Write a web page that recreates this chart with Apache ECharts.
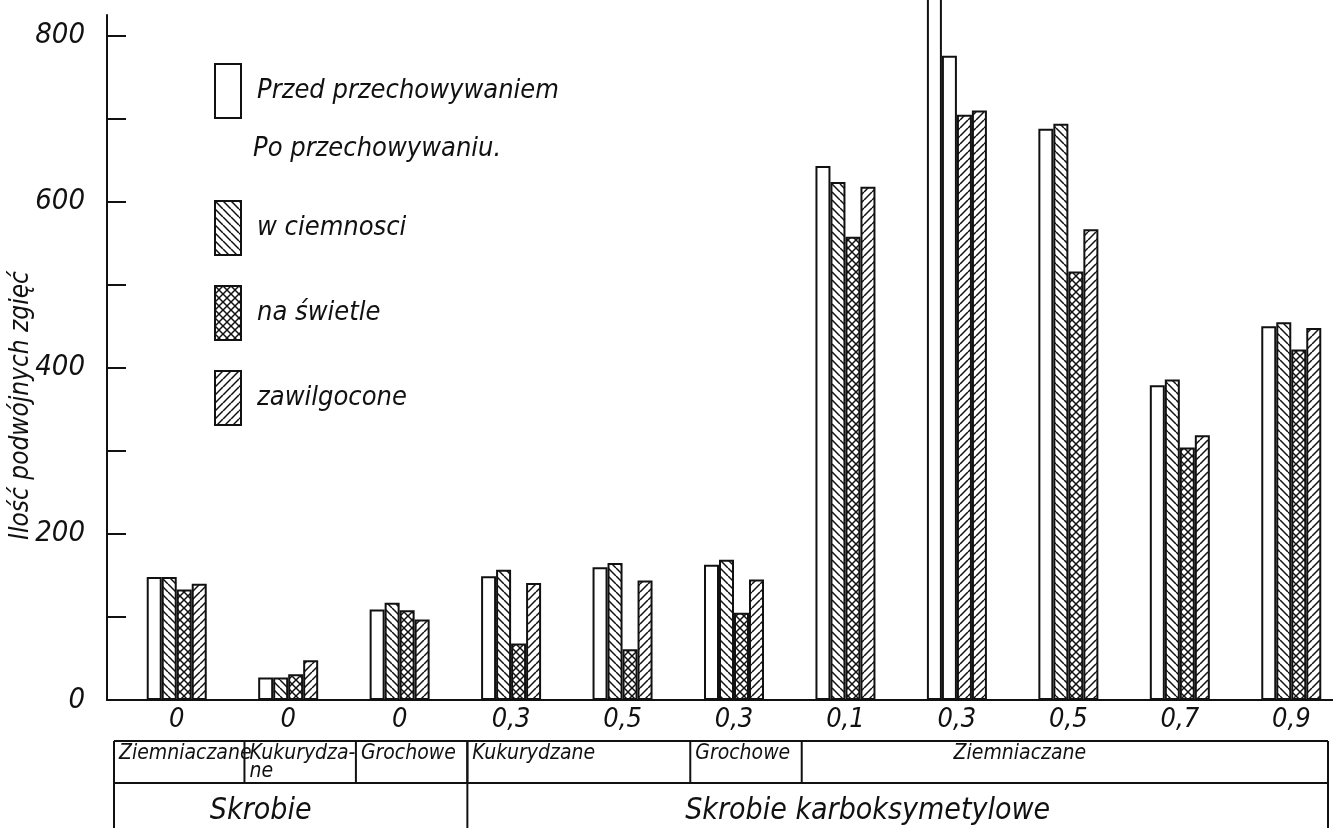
<!DOCTYPE html>
<html><head><meta charset="utf-8">
<script src="https://cdn.jsdelivr.net/npm/echarts@6/dist/echarts.min.js"></script>
<style>html,body{margin:0;padding:0;background:#fff}#c{width:1333px;height:828px}</style>
</head><body><div id="c"></div>
<script>
// ---- data ----
const categories = ['0','0','0','0,3','0,5','0,3','0,1','0,3','0,5','0,7','0,9'];
const seriesNames = ['Przed przechowywaniem','w ciemnosci','na świetle','zawilgocone'];
const przed       = [148, 27, 109, 149, 160, 163, 643, 850, 688, 379, 450];
const ciemnosci   = [148, 27, 117, 157, 165, 169, 624, 776, 694, 386, 455];
const swietle     = [133, 31, 108,  68,  61, 105, 558, 705, 516, 304, 422];
const zawilgocone = [140, 48,  97, 141, 144, 145, 618, 710, 567, 319, 448];
const yLabelTicks = [0, 200, 400, 600, 800];
const yMinorTicks = [0, 100, 200, 300, 400, 500, 600, 700, 800];
const starchTypes = ['Ziemniaczane', 'Kukurydza-\nne', 'Grochowe', 'Kukurydzane', 'Grochowe', 'Ziemniaczane'];
const starchTypeSpans = [1, 1, 1, 2, 1, 5];
const starchGroups = ['Skrobie', 'Skrobie karboksymetylowe'];
const starchGroupSpans = [3, 8];
const yName = 'Ilość podwójnych zgięć';
const afterLabel = 'Po przechowywaniu.';

// ---- styling ----
const FONT = "'Liberation Sans Narrow','DejaVu Sans Condensed',sans-serif";
const INK = '#111';
function hatch(dirs) {
  const s = 8, c = document.createElement('canvas');
  c.width = s; c.height = s;
  const g = c.getContext('2d');
  g.fillStyle = '#fff'; g.fillRect(0, 0, s, s);
  g.strokeStyle = INK; g.lineWidth = 1.5;
  dirs.forEach(d => {
    for (let k = -1; k <= 2; k++) {
      g.beginPath();
      if (d === 'b') { g.moveTo(0, k * s); g.lineTo(s, k * s + s); }
      else { g.moveTo(0, k * s); g.lineTo(s, k * s - s); }
      g.stroke();
    }
  });
  return { image: c, repeat: 'repeat' };
}
const fills = { white: '#fff', back: hatch(['b']), cross: hatch(['b', 'f']), fwd: hatch(['f']) };
const seriesFill = ['white', 'back', 'cross', 'fwd'];
// print anomalies in the '0,3' Ziemniaczane group
const fillOverrides = { 1: { 7: 'white' }, 2: { 7: 'fwd' } };
const seriesData = [przed, ciemnosci, swietle, zawilgocone];

const chart = echarts.init(document.getElementById('c'), null, { renderer: 'canvas' });
const txt = (size, extra) => Object.assign({ fontFamily: FONT, fontStyle: 'italic', fontWeight: 'normal', fontSize: size, color: INK }, extra || {});

const series = seriesNames.map((name, si) => ({
  name, type: 'bar', xAxisIndex: 1, yAxisIndex: 1,
  barWidth: 15, barGap: '0%',
  itemStyle: { color: fills[seriesFill[si]], borderColor: INK, borderWidth: 2 },
  emphasis: { disabled: true },
  data: seriesData[si].map((v, i) => {
    const o = fillOverrides[si] && fillOverrides[si][i];
    return o ? { value: v, itemStyle: { color: fills[o] } } : v;
  })
}));

const legendCommon = {
  orient: 'vertical', left: 209, icon: 'rect', itemWidth: 26, itemHeight: 54,
  selectedMode: false, textStyle: txt(27, { padding: [0, 0, 0, 11] })
};

// axis frame: 0..825 over y 15..700; bar grid extends above the frame so the off-scale bar runs past the top
const Y_MAX = 825, FRAME_TOP = 15, AXIS_Y = 700;
const pxPerUnit = (AXIS_Y - FRAME_TOP) / Y_MAX;
const BAR_TOP = -30;
const BAR_MAX = (AXIS_Y - BAR_TOP) / pxPerUnit;

chart.setOption({
  animation: false,
  backgroundColor: '#fff',
  title: { text: afterLabel, left: 248, top: 130, textStyle: txt(27) },
  legend: [
    Object.assign({ data: [seriesNames[0]], top: 58 }, legendCommon),
    Object.assign({ data: seriesNames.slice(1), top: 195, itemGap: 29, itemHeight: 53 }, legendCommon)
  ],
  grid: [
    { left: 107, right: 0, top: FRAME_TOP, bottom: 828 - AXIS_Y, outerBoundsMode: 'none', containLabel: false },
    { left: 121, width: 1226, top: BAR_TOP, bottom: 828 - AXIS_Y, outerBoundsMode: 'none', containLabel: false }
  ],
  xAxis: [
    { gridIndex: 0, type: 'value', min: 0, max: 1, axisLine: { show: true, lineStyle: { color: INK, width: 2 } },
      axisTick: { show: false }, axisLabel: { show: false }, splitLine: { show: false } },
    { gridIndex: 1, type: 'category', data: categories, axisLine: { show: false }, axisTick: { show: false },
      axisLabel: Object.assign(txt(27), { margin: 6 }) }
  ],
  yAxis: [
    { gridIndex: 0, type: 'value', min: 0, max: Y_MAX,
      axisLine: { show: true, lineStyle: { color: INK, width: 2 } },
      axisTick: { show: true, inside: true, length: 19, lineStyle: { color: INK, width: 2 }, customValues: yMinorTicks },
      axisLabel: Object.assign(txt(29), { margin: 22, customValues: yLabelTicks }),
      splitLine: { show: false },
      name: yName, nameLocation: 'middle', nameGap: 73, nameMoveOverlap: false,
      nameTextStyle: txt(26, { padding: [0, 96, 0, 0] }) },
    { gridIndex: 1, type: 'value', min: 0, max: BAR_MAX, show: false }
  ],
  series
});

// ---- category table under the axis ----
const TABLE_TOP = 741, TABLE_MID = 783, TABLE_BOTTOM = 828, TABLE_LEFT = 114, TABLE_RIGHT = 1328, SHIFT = 12;
const c0 = chart.convertToPixel({ xAxisIndex: 1 }, 0);
const c1 = chart.convertToPixel({ xAxisIndex: 1 }, 1);
const band = c1 - c0;
const boundary = k => {
  if (k <= 0) return TABLE_LEFT;
  if (k >= categories.length) return TABLE_RIGHT;
  return c0 - band / 2 + k * band + SHIFT;
};
const line = (x1, y1, x2, y2) => ({ type: 'line', shape: { x1, y1, x2, y2 }, style: { stroke: INK, lineWidth: 2 }, silent: true });
const g = [];
g.push(line(TABLE_LEFT, TABLE_TOP, TABLE_RIGHT, TABLE_TOP));
g.push(line(TABLE_LEFT, TABLE_MID, TABLE_RIGHT, TABLE_MID));
g.push(line(TABLE_LEFT, TABLE_TOP, TABLE_LEFT, TABLE_BOTTOM));
g.push(line(TABLE_RIGHT, TABLE_TOP, TABLE_RIGHT, TABLE_BOTTOM));
let k = 0;
starchTypes.forEach((t, i) => {
  const x0 = boundary(k), x1 = boundary(k + starchTypeSpans[i]);
  if (k > 0) g.push(line(x0, TABLE_TOP, x0, TABLE_MID));
  const wide = starchTypeSpans[i] >= 5;
  g.push({ type: 'text', silent: true, x: wide ? (x0 + x1) / 2 - 45 : x0 + 5, y: TABLE_TOP + 4,
    style: { text: t, fill: INK, align: wide ? 'center' : 'left', verticalAlign: 'top', lineHeight: 18,
      font: 'italic 21px ' + FONT } });
  k += starchTypeSpans[i];
});
k = 0;
starchGroups.forEach((t, i) => {
  const x0 = boundary(k), x1 = boundary(k + starchGroupSpans[i]);
  if (k > 0) g.push(line(x0, TABLE_TOP, x0, TABLE_BOTTOM));
  g.push({ type: 'text', silent: true, x: (x0 + x1) / 2 - 30, y: (TABLE_MID + TABLE_BOTTOM) / 2 + 6,
    style: { text: t, fill: INK, align: 'center', verticalAlign: 'middle', font: 'italic 30px ' + FONT } });
  k += starchGroupSpans[i];
});
chart.setOption({ graphic: g });
</script>
</body></html>
